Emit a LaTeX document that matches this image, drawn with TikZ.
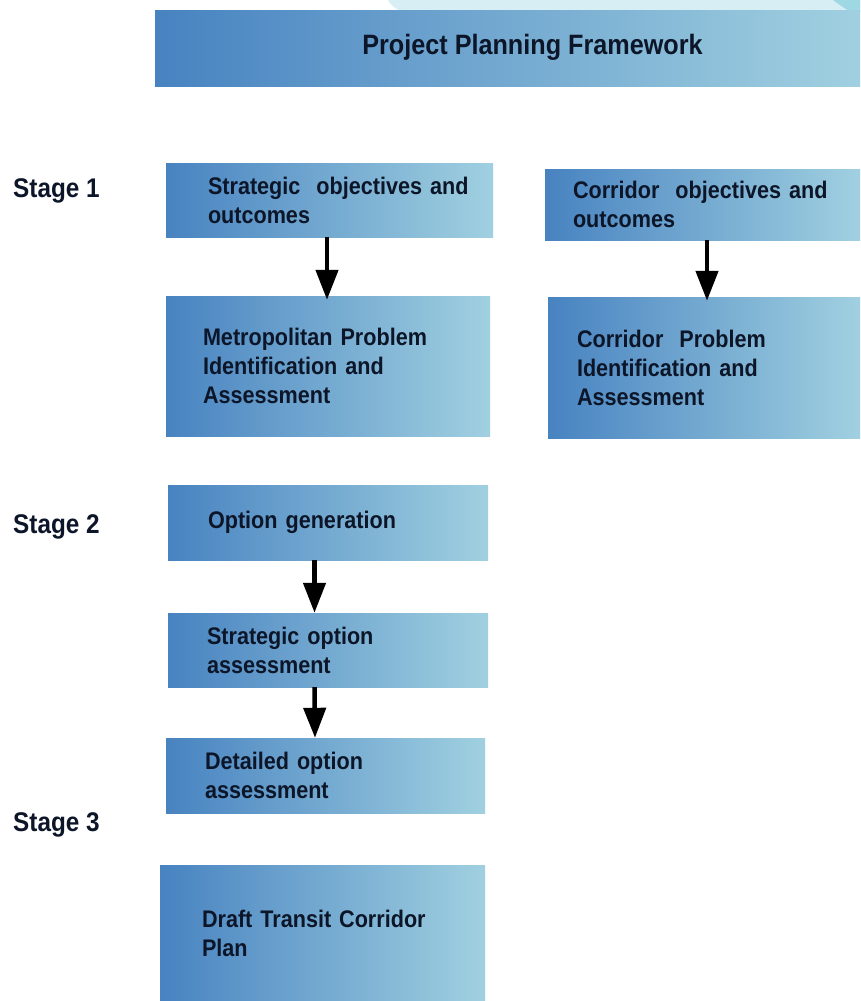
\documentclass[tikz,border=0pt]{standalone}
\usepackage{fontspec}
\setmainfont{Liberation Sans}[FakeStretch=0.9]
\usetikzlibrary{arrows.meta}
\definecolor{boxleft}{RGB}{72,131,193}
\definecolor{boxright}{RGB}{160,208,224}
\definecolor{inkdark}{RGB}{12,22,40}
\definecolor{bandcyan}{RGB}{214,238,244}
\definecolor{tipcyan}{RGB}{158,216,226}
\begin{document}
\begin{tikzpicture}[x=1pt,y=-1pt,
  planbox/.style={rectangle,left color=boxleft,right color=boxright,inner xsep=0pt,inner ysep=0pt,
    align=left,text=inkdark,font=\fontsize{24}{29}\selectfont\bfseries},
  stagelabel/.style={anchor=base west,inner sep=0pt,text=inkdark,font=\fontsize{27}{30}\selectfont\bfseries},
  flowarrow/.style={line width=4.5pt,-{Triangle[width=22pt,length=30pt]}}]
\useasboundingbox[fill=white] (0,0) rectangle (860,1001);
% top band behind the title
\fill[bandcyan] (388,0) .. controls (392,7) and (398,11) .. (410,14) -- (860,14) -- (860,0) -- cycle;
\fill[tipcyan] (833,0) .. controls (840,5) and (845,9) .. (851,12) -- (860,12) -- (860,0) -- cycle;
\node[planbox,minimum width=705pt,minimum height=76pt] (title) at (507.5,48) {};
\node[inner sep=0pt,text=inkdark,font=\fontsize{28}{32}\selectfont\bfseries] (titletext) at (532.5,47) {Project Planning Framework};
\node[stagelabel] (stageone) at (13,197) {Stage 1};
\node[stagelabel] (stagetwo) at (13,533) {Stage 2};
\node[stagelabel] (stagethree) at (13,831) {Stage 3};
\node[planbox,minimum width=327pt,minimum height=74pt,text width=243pt] (s1a) at (329.5,200) {\mbox{Strategic\ \ objectives and}\\outcomes};
\node[planbox,minimum width=324pt,minimum height=140pt,text width=250pt] (s1b) at (328,366) {Metropolitan~Problem\\Identification~and\\Assessment};
\node[planbox,minimum width=315pt,minimum height=71pt,text width=259pt] (c1a) at (702.5,204.5) {\mbox{Corridor\ \ objectives and}\\outcomes};
\node[planbox,minimum width=312pt,minimum height=141pt,text width=254pt] (c1b) at (704,367.5) {Corridor~~Problem\\Identification~and\\Assessment};
\node[planbox,minimum width=320pt,minimum height=75pt,text width=240pt] (s2a) at (328,522.5) {Option~generation};
\node[planbox,minimum width=320pt,minimum height=74pt,text width=242pt] (s2b) at (328,650) {Strategic~option\\assessment};
\node[planbox,minimum width=319pt,minimum height=75pt,text width=241pt] (s2c) at (325.5,775.5) {Detailed~option\\assessment};
\node[planbox,minimum width=325pt,minimum height=136pt,text width=241pt] (s3) at (322.5,933) {Draft~Transit~Corridor\\Plan};
\draw[flowarrow] ([xshift=-2.5pt]s1a.south) -- ([xshift=-1pt,yshift=-4pt]s1b.north);
\draw[flowarrow] ([xshift=4.5pt]c1a.south) -- ([xshift=3pt,yshift=-4pt]c1b.north);
\draw[flowarrow] ([xshift=-13.5pt]s2a.south) -- ([xshift=-13.5pt]s2b.north);
\draw[flowarrow] ([xshift=-13.5pt]s2b.south) -- ([xshift=-10.5pt]s2c.north);
\end{tikzpicture}
\end{document}
